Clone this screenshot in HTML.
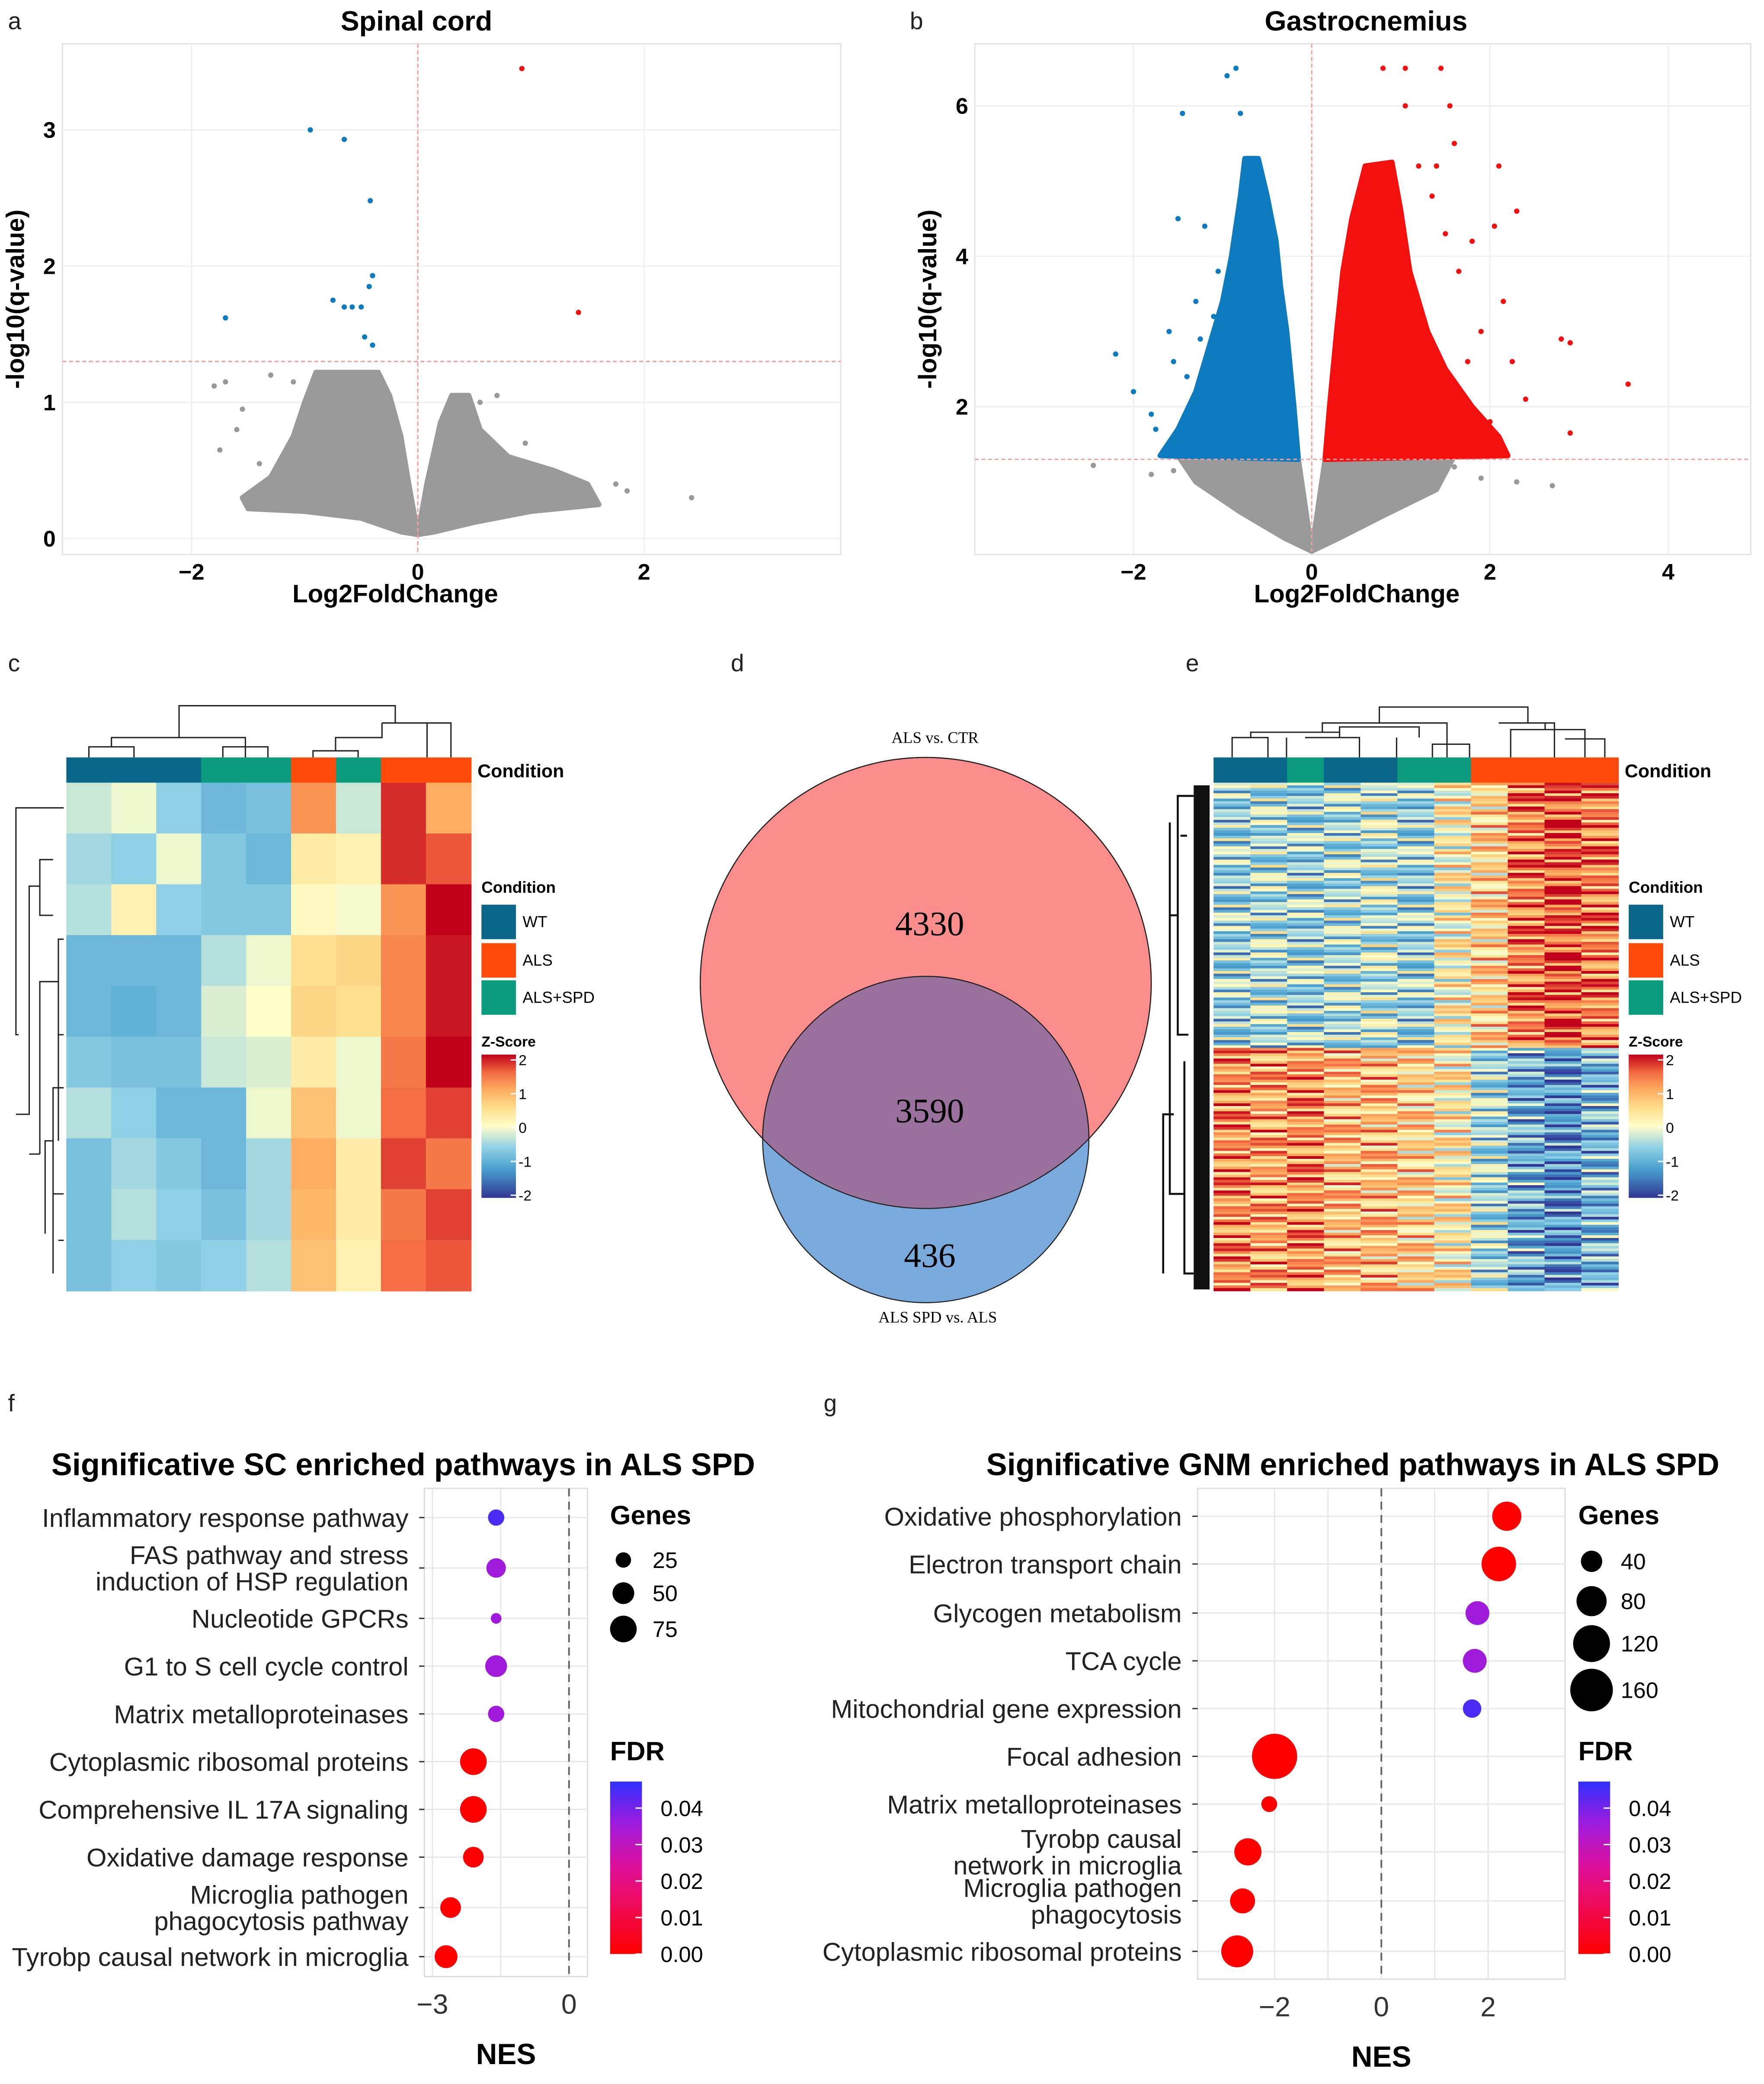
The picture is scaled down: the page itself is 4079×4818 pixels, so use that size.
<!DOCTYPE html>
<html><head><meta charset="utf-8">
<style>
html,body{margin:0;padding:0;background:#fff;}
svg{display:block;}
text{font-family:"Liberation Sans",sans-serif;}
.serif{font-family:"Liberation Serif",serif;}
</style></head>
<body>
<svg id="fig" xmlns="http://www.w3.org/2000/svg" width="4079" height="4818" viewBox="0 0 1330 1571">
<defs>
<linearGradient id="zgrad" x1="0" y1="1" x2="0" y2="0">
<stop offset="0" stop-color="#313695"/><stop offset="0.2" stop-color="#4aa0cd"/><stop offset="0.35" stop-color="#90d0e6"/><stop offset="0.5" stop-color="#fffdc8"/><stop offset="0.62" stop-color="#fee090"/><stop offset="0.75" stop-color="#fdae61"/><stop offset="0.87" stop-color="#f46d43"/><stop offset="1" stop-color="#c0001a"/>
</linearGradient>
<linearGradient id="fdrgrad" x1="0" y1="1" x2="0" y2="0">
<stop offset="0" stop-color="#ff0000"/><stop offset="0.5" stop-color="#e0109a"/><stop offset="0.75" stop-color="#a01adc"/><stop offset="1" stop-color="#3030ff"/>
</linearGradient>
<clipPath id="bigc"><circle cx="698" cy="741" r="170"/></clipPath>
</defs>
<g id="root"></g>
</svg>
<script>
// ---------- data ----------
const volA_blue_x=[-0.95,-0.65,-0.42,-0.40,-0.43,-0.75,-0.65,-0.58,-0.50,-0.47,-0.40,-1.70];
const volA_blue_y=[3.00,2.93,2.48,1.93,1.85,1.75,1.70,1.70,1.70,1.48,1.42,1.62];
const volA_red_x=[0.92,1.42];
const volA_red_y=[3.45,1.66];
const volA_gray_x=[2.42,-1.80,-1.75,-1.70,-1.55,-1.30,-1.25,-1.10,0.95,1.20,1.35,1.50,-1.60,0.55,0.70,1.75,1.85,-1.40];
const volA_gray_y=[0.30,1.12,0.65,1.15,0.95,1.20,0.30,1.15,0.70,0.45,0.40,0.35,0.80,1.00,1.05,0.40,0.35,0.55];
const volB_blue_x=[-0.85,-0.95,-0.80,-1.45,-0.60,-0.70,-1.20,-1.50,-1.60,-2.20,-2.00,-1.75,-1.40,-1.10,-0.55,-1.05,-1.30,-1.80,-1.55,-1.25];
const volB_blue_y=[6.50,6.40,5.90,5.90,5.20,5.00,4.40,4.50,3.00,2.70,2.20,1.70,2.40,3.20,4.90,3.80,3.40,1.90,2.60,2.90];
const volB_red_x=[0.80,1.05,1.45,1.05,1.60,1.55,2.10,2.30,1.80,2.80,2.90,3.55,2.90,2.05,2.40,1.20,0.90,1.75,2.15,1.35,1.90,2.25,1.65,2.00,1.50,1.40];
const volB_red_y=[6.50,6.50,6.50,6.00,5.50,6.00,5.20,4.60,4.20,2.90,2.85,2.30,1.65,4.40,2.10,5.20,5.20,2.60,3.40,4.80,3.00,2.60,3.80,1.80,4.30,5.20];
const volB_gray_x=[-2.45,-1.80,2.30,2.70,1.90,-1.55,1.60];
const volB_gray_y=[1.22,1.10,1.00,0.95,1.05,1.15,1.20];
const hmC=[
[-0.3,-0.1,-0.6,-0.9,-0.8,1.2,-0.3,1.8,1.0],
[-0.5,-0.6,-0.1,-0.7,-0.9,0.3,0.2,1.8,1.6],
[-0.4,0.2,-0.6,-0.7,-0.7,0.05,-0.05,1.2,2.0],
[-0.9,-0.9,-0.9,-0.4,-0.1,0.5,0.6,1.3,1.9],
[-0.9,-1.0,-0.9,-0.2,0.0,0.6,0.5,1.3,1.9],
[-0.7,-0.8,-0.8,-0.3,-0.2,0.3,-0.1,1.4,2.0],
[-0.4,-0.6,-0.9,-0.9,-0.1,0.8,-0.1,1.5,1.7],
[-0.8,-0.5,-0.7,-0.9,-0.5,1.0,0.3,1.7,1.4],
[-0.8,-0.4,-0.6,-0.8,-0.5,0.9,0.3,1.4,1.7],
[-0.8,-0.6,-0.7,-0.6,-0.4,0.8,0.2,1.5,1.6]];
const condC=["WT","WT","WT","SPD","SPD","ALS","SPD","ALS","ALS"];
const condE=["WT","WT","SPD","WT","WT","SPD","SPD","ALS","ALS","ALS","ALS"];
const hmE_upMean=[-0.6,-0.5,-0.6,-0.5,-0.4,-0.6,0.2,0.6,1.3,1.6,1.3];
const hmE_downMean=[1.2,1.0,1.2,0.8,0.8,0.6,0.3,-0.5,-1.0,-1.3,-0.9];
const hmE_offsets=[0.3,-0.4,0.1,0.6,-0.7,0.2,-0.2,0.5,-0.5,0.0,0.4,-0.3,0.7,-0.6,0.1,-0.1,0.35,-0.45,0.55,-0.15,0.25,-0.65,0.8,-0.8,0.05];
const vennLabels=["4330","3590","436"];
const pathF=["Inflammatory response pathway","FAS pathway and stress|induction of HSP regulation","Nucleotide GPCRs","G1 to S cell cycle control","Matrix metalloproteinases","Cytoplasmic ribosomal proteins","Comprehensive IL 17A signaling","Oxidative damage response","Microglia pathogen|phagocytosis pathway","Tyrobp causal network in microglia"];
const nesF=[-1.6,-1.6,-1.6,-1.6,-1.6,-2.1,-2.1,-2.1,-2.6,-2.7];
const genesF=[28,40,12,50,28,75,75,45,45,55];
const fdrF=[0.045,0.03,0.03,0.03,0.03,0,0,0,0,0];
const pathG=["Oxidative phosphorylation","Electron transport chain","Glycogen metabolism","TCA cycle","Mitochondrial gene expression","Focal adhesion","Matrix metalloproteinases","Tyrobp causal|network in microglia","Microglia pathogen|phagocytosis","Cytoplasmic ribosomal proteins"];
const nesG=[2.35,2.2,1.8,1.75,1.7,-2.0,-2.1,-2.5,-2.6,-2.7];
const genesG=[75,105,50,50,30,180,22,65,55,90];
const fdrG=[0,0,0.03,0.03,0.045,0,0,0,0,0];

// ---------- helpers ----------
const NS="http://www.w3.org/2000/svg";
const root=document.getElementById("root");
function mk(tag,attrs,parent,txt){const e=document.createElementNS(NS,tag);for(const k in attrs)e.setAttribute(k,attrs[k]);if(txt!==undefined)e.textContent=txt;(parent||root).appendChild(e);return e;}
function lin(d0,d1,r0,r1){return v=>r0+(v-d0)*(r1-r0)/(d1-d0);}
function zcol(z){const st=[[-2,[49,54,149]],[-1.2,[74,160,205]],[-0.6,[144,208,230]],[0,[255,253,200]],[0.5,[254,224,144]],[1,[253,174,97]],[1.5,[244,109,67]],[2,[192,0,26]]];
 z=Math.max(-2,Math.min(2,z));for(let i=0;i<st.length-1;i++){if(z<=st[i+1][0]){const t=(z-st[i][0])/(st[i+1][0]-st[i][0]);const c=st[i][1].map((a,j)=>Math.round(a+(st[i+1][1][j]-a)*t));return`rgb(${c})`;}}return"rgb(192,0,26)";}
function fdrcol(f){const t=Math.min(1,f/0.05);const a=[255,0,0],m=[160,26,220],b=[48,48,255];let c;if(t<0.6){const u=t/0.6;c=a.map((v,i)=>Math.round(v+(m[i]-v)*u));}else{const u=(t-0.6)/0.4;c=m.map((v,i)=>Math.round(v+(b[i]-v)*u));}return`rgb(${c})`;}
const condColor={WT:"#0b6689",ALS:"#fe4a0a",SPD:"#0b9c7f"};

function label(x,y,t,name){const e=mk("text",{x:x,y:y,"font-size":18,fill:"#222"},root,t);}

// ---------- volcano ----------
function volcano(o){
 const g=mk("g",{});
 const X=lin(0,1,o.x0,o.x0+o.kx),Y=lin(0,1,o.y0,o.y0-o.ky);
 mk("rect",{x:o.l,y:o.t,width:o.r-o.l,height:o.b-o.t,fill:"#fff",stroke:"#e3e3e3","stroke-width":1},g);
 o.xt.forEach(v=>{mk("line",{x1:X(v),x2:X(v),y1:o.t,y2:o.b,stroke:"#f0f0f0"},g);});
 o.yt.forEach(v=>{mk("line",{x1:o.l,x2:o.r,y1:Y(v),y2:Y(v),stroke:"#f0f0f0"},g);});
 const cloud=(pts,col,nm)=>{const p=mk("polygon",{points:pts.map(q=>X(q[0])+","+Y(q[1])).join(" "),fill:col,stroke:col,"stroke-width":4,"stroke-linejoin":"round"},g);};
 o.clouds.forEach(c=>cloud(c[0],c[1],c[2]));
 const pts=(xs,ys,col,nm)=>xs.forEach((x,i)=>{const c=mk("circle",{cx:X(x),cy:Y(ys[i]),r:2,fill:col},g);});
 pts(o.gx,o.gy,"#999","gray-point");pts(o.bx,o.by,"#0d7bbd","down-point");pts(o.rx,o.ry,"#f51010","up-point");
 mk("line",{x1:X(0),x2:X(0),y1:o.t,y2:o.b,stroke:"#f0a0a0","stroke-dasharray":"3,2"},g);
 mk("line",{x1:o.l,x2:o.r,y1:Y(1.3),y2:Y(1.3),stroke:"#f0a0a0","stroke-dasharray":"3,2"},g);
 o.xt.forEach(v=>{const t=mk("text",{x:X(v),y:o.b+19,"font-size":17,"font-weight":"bold","text-anchor":"middle"},g,v<0?"\u2212"+(-v):String(v));});
 o.yt.forEach(v=>{const t=mk("text",{x:o.l-5,y:Y(v)+6,"font-size":17,"font-weight":"bold","text-anchor":"end"},g,String(v));});
 const xt=mk("text",{x:o.xlx,y:o.b+36,"font-size":19,"font-weight":"bold","text-anchor":"middle"},g,"Log2FoldChange");
 const yt=mk("text",{x:0,y:0,"font-size":19,"font-weight":"bold","text-anchor":"middle",transform:`translate(${o.l-29},${(o.t+o.b)/2}) rotate(-90)`},g,"-log10(q-value)");
 const tt=mk("text",{x:o.tlx,y:23,"font-size":21,"font-weight":"bold","text-anchor":"middle"},g,o.title);
}
volcano({name:"volcano-spinal-cord",title:"Spinal cord",tlx:314,xlx:298,l:47,r:634,t:33,b:418,x0:315,kx:85.3,y0:406,ky:102.7,xt:[-2,0,2],yt:[0,1,2,3],
 clouds:[[[[0,0.03],[-0.08,0.4],[-0.15,0.75],[-0.25,1.05],[-0.35,1.22],[-0.9,1.22],[-1.0,1.0],[-1.1,0.75],[-1.3,0.45],[-1.55,0.3],[-1.5,0.22],[-1.0,0.2],[-0.5,0.15],[-0.15,0.05]],"#9a9a9a","gray-cloud-left"],
 [[[0,0.03],[0.08,0.4],[0.2,0.85],[0.3,1.05],[0.45,1.05],[0.55,0.8],[0.8,0.6],[1.2,0.5],[1.5,0.4],[1.6,0.25],[1.0,0.2],[0.5,0.12],[0.15,0.05]],"#9a9a9a","gray-cloud-right"]],
 gx:volA_gray_x,gy:volA_gray_y,bx:volA_blue_x,by:volA_blue_y,rx:volA_red_x,ry:volA_red_y});
volcano({name:"volcano-gastrocnemius",title:"Gastrocnemius",tlx:1030,xlx:1023,l:735,r:1320,t:33,b:418,x0:989,kx:67.2,y0:420,ky:56.7,xt:[-2,0,2,4],yt:[2,4,6],
 clouds:[[[[0,0.08],[-0.15,1.3],[-1.5,1.35],[-1.3,1.0],[-0.8,0.6],[-0.3,0.25]],"#9a9a9a","gray-cloud-left"],
 [[[0,0.08],[0.15,1.3],[1.6,1.35],[1.4,0.9],[0.8,0.55],[0.3,0.25]],"#9a9a9a","gray-cloud-right"],
 [[[-0.15,1.3],[-0.2,2.0],[-0.28,3.0],[-0.35,3.6],[-0.4,4.2],[-0.5,4.8],[-0.6,5.3],[-0.75,5.3],[-0.8,4.8],[-0.9,4.0],[-1.0,3.4],[-1.15,2.8],[-1.3,2.2],[-1.5,1.7],[-1.7,1.35]],"#0d7bbd","down-cloud"],
 [[[0.15,1.3],[0.2,2.0],[0.28,3.0],[0.35,3.8],[0.45,4.5],[0.6,5.2],[0.9,5.25],[1.0,4.6],[1.1,3.8],[1.3,3.0],[1.5,2.5],[1.8,2.0],[2.1,1.6],[2.2,1.35]],"#f51010","up-cloud"]],
 gx:volB_gray_x,gy:volB_gray_y,bx:volB_blue_x,by:volB_blue_y,rx:volB_red_x,ry:volB_red_y});

// ---------- legend for heatmaps ----------
function hmLegend(x,name){
 const g=mk("g",{});
 mk("text",{x:x,y:673,"font-size":12,"font-weight":"bold"},g,"Condition");
 [["WT","WT",682],["ALS","ALS",711],["ALS+SPD","SPD",739]].forEach(r=>{mk("rect",{x:x,y:r[2],width:26,height:26,fill:condColor[r[1]]},g);mk("text",{x:x+31,y:r[2]+17,"font-size":12},g,r[0]);});
 mk("text",{x:x,y:789,"font-size":11,"font-weight":"bold"},g,"Z-Score");
 mk("rect",{x:x,y:795,width:26,height:108,fill:"url(#zgrad)"},g);
 [2,1,0,-1,-2].forEach((v,i)=>{const yy=799+i*25.5;mk("line",{x1:x+22,x2:x+26,y1:yy,y2:yy,stroke:"#fff"},g);mk("text",{x:x+28,y:yy+4,"font-size":11},g,v<0?"-"+(-v):String(v));});
}
// ---------- heatmap c ----------
(function(){
 const g=mk("g",{});
 const L=50,T=590,W=305/9,H=383/10;
 hmC.forEach((row,r)=>row.forEach((v,c)=>{const e=mk("rect",{x:L+c*W,y:T+r*H,width:W+0.5,height:H+0.5,fill:zcol(v)},g);}));
 condC.forEach((c,i)=>{const e=mk("rect",{x:L+i*W,y:571,width:W+0.5,height:19,fill:condColor[c]},g);});
 mk("text",{x:360,y:586,"font-size":14,"font-weight":"bold"},g,"Condition");
 mk("path",{d:"M67,571V563H101V571 M84,563V556H185V571 M168,571V563H202V571 M185,563V556 M135,556V532H298V545 M236,571V566H270V571 M253,566V556H288V545 M288,545H340V571 M322,545V571 M298,545V532",fill:"none",stroke:"#222","stroke-width":1},g);
 mk("path",{d:"M48,609H12V780H14 M40,648H30V690H40 M30,668H22V840H12 M48,708H44V860 M44,740H30V870 M48,780H44 M48,820H40V960 M40,860H34V930 M48,900H40 M48,935H44 M30,870H22",fill:"none",stroke:"#222","stroke-width":1},g);
 hmLegend(363,"legend-spinal-cord");
})();
// ---------- heatmap e ----------
(function(){
 const g=mk("g",{});
 const L=915,T=590,W=305/11,nUp=100,nDown=92,H1=200/nUp,H2=183/nDown;
 for(let r=0;r<nUp+nDown;r++){
  const up=r<nUp,means=up?hmE_upMean:hmE_downMean,y=up?T+r*H1:T+200+(r-nUp)*H2,h=up?H1:H2;
  means.forEach((m,c)=>{const v=m+hmE_offsets[(r*7+c*5)%hmE_offsets.length]*1.3;const e=mk("rect",{x:L+c*W,y:y,width:W+0.5,height:h+0.4,fill:zcol(v)},g);});
 }
 condE.forEach((c,i)=>{const e=mk("rect",{x:L+i*W,y:571,width:W+0.5,height:19,fill:condColor[c]},g);});
 mk("text",{x:1225,y:586,"font-size":14,"font-weight":"bold"},g,"Condition");
 mk("path",{d:"M929,571V556H956V571 M943,556V552H1010V556 M970,571V556 M984,556H1025V571 M1010,556V548H1070V556 M997,552V545H1091V556 M1053,571V556 M1091,556V571 M1040,545V533H1152V545 M1080,571V561H1108V571 M1130,545H1172V571 M1152,545V533 M1139,571V550H1195V571 M1165,550V545 M1180,557H1210V571",fill:"none",stroke:"#222","stroke-width":1},g);
 mk("rect",{x:900,y:592,width:12,height:380,fill:"#111"},g);
 mk("path",{d:"M900,600H888V780H896 M888,690H882V900H893 M893,800V960H900 M885,840H877V960 M882,620V700 M895,630H890",fill:"none",stroke:"#111","stroke-width":1.5},g);
 hmLegend(1228,"legend-gastrocnemius");
})();
// ---------- venn ----------
(function(){
 const g=mk("g",{});
 const a=mk("circle",{cx:698,cy:741,r:170,fill:"#fc8d8d",stroke:"#222","stroke-width":0.8},g);
 const b=mk("circle",{cx:698,cy:859,r:123,fill:"#7aaadb",stroke:"#222","stroke-width":0.8},g);
 mk("circle",{cx:698,cy:859,r:123,fill:"#9a709c",stroke:"#222","stroke-width":0.8,"clip-path":"url(#bigc)"},g);
 mk("circle",{cx:698,cy:741,r:170,fill:"none",stroke:"#222","stroke-width":0.8},g);
 const ys=[705,846,955];vennLabels.forEach((t,i)=>mk("text",{x:701,y:ys[i],"font-size":26,"text-anchor":"middle",class:"serif"},g,t));
 mk("text",{x:705,y:560,"font-size":12,"text-anchor":"middle",class:"serif"},g,"ALS vs. CTR");
 mk("text",{x:707,y:997,"font-size":12,"text-anchor":"middle",class:"serif"},g,"ALS SPD vs. ALS");
})();
// ---------- dot plots ----------
function dotplot(o){
 const g=mk("g",{});
 const X=lin(o.xv[0],o.xv[1],o.xp[0],o.xp[1]);
 mk("rect",{x:o.l,y:o.t,width:o.r-o.l,height:o.b-o.t,fill:"#fff",stroke:"#ddd"},g);
 o.grid.forEach(v=>mk("line",{x1:X(v),x2:X(v),y1:o.t,y2:o.b,stroke:"#e8e8e8"},g));
 o.rows.forEach(y=>mk("line",{x1:o.l,x2:o.r,y1:y,y2:y,stroke:"#e8e8e8"},g));
 mk("line",{x1:X(0),x2:X(0),y1:o.t,y2:o.b,stroke:"#666","stroke-dasharray":"6,4","stroke-width":1.3},g);
 o.paths.forEach((p,i)=>{const y=o.rows[i];const parts=p.split("|");
  parts.forEach((s,k)=>{const t=mk("text",{x:o.l-12,y:y+7-(parts.length-1-k)*20+(parts.length>1?10:0),"font-size":19.5,"text-anchor":"end",fill:"#222"},g,s);});
  mk("line",{x1:o.l-4,x2:o.l,y1:y,y2:y,stroke:"#333"},g);
  const c=mk("circle",{cx:X(o.nes[i]),cy:y,r:o.k*Math.sqrt(o.genes[i]),fill:fdrcol(o.fdr[i])},g);});
 o.ticks.forEach(v=>{const t=mk("text",{x:X(v),y:o.b+28,"font-size":21,"text-anchor":"middle",fill:"#333"},g,v<0?"\u2212"+(-v):String(v));});
 const xt=mk("text",{x:(o.l+o.r)/2,y:o.b+66,"font-size":22,"font-weight":"bold","text-anchor":"middle"},g,"NES");
 const tt=mk("text",{x:o.tx,y:1112,"font-size":23.5,"font-weight":"bold","text-anchor":"middle"},g,o.title);
 mk("text",{x:o.lx,y:1149,"font-size":20,"font-weight":"bold"},g,"Genes");
 o.leg.forEach((v,i)=>{mk("circle",{cx:o.lx+10,cy:o.legy[i],r:o.k*Math.sqrt(v),fill:"#000"},g);mk("text",{x:o.lx+32,y:o.legy[i]+6,"font-size":17},g,String(v));});
 mk("text",{x:o.lx,y:1327,"font-size":20,"font-weight":"bold"},g,"FDR");
 mk("rect",{x:o.lx,y:1343,width:24,height:130,fill:"url(#fdrgrad)"},g);
 ["0.04","0.03","0.02","0.01","0.00"].forEach((s,i)=>{const yy=1363+i*27.5;mk("line",{x1:o.lx+19,x2:o.lx+24,y1:yy,y2:yy,stroke:"#fff"},g);mk("text",{x:o.lx+38,y:yy+6,"font-size":16.5},g,s);});
}
dotplot({name:"dotplot-sc-pathways",title:"Significative SC enriched pathways in ALS SPD",tx:304,l:320,r:443,t:1122,b:1490,xv:[-3,0],xp:[326,429],grid:[-3,-1.5,0],ticks:[-3,0],
 rows:[1144,1182,1220,1256,1292,1328,1364,1400,1438,1475],paths:pathF,nes:nesF,genes:genesF,fdr:fdrF,k:1.16,lx:460,leg:[25,50,75],legy:[1176,1201,1228]});
dotplot({name:"dotplot-gnm-pathways",title:"Significative GNM enriched pathways in ALS SPD",tx:1020,l:903,r:1180,t:1122,b:1492,xv:[-2,2],xp:[961,1122],grid:[-2,-1,0,1,2],ticks:[-2,0,2],
 rows:[1143,1179,1216,1252,1288,1324,1360,1396,1433,1471],paths:pathG,nes:nesG,genes:genesG,fdr:fdrG,k:1.27,lx:1190,leg:[40,80,120,160],legy:[1177,1207,1239,1274]});

// panel letters
[["a",10,22],["b",690,22],["c",10,506],["d",555,506],["e",898,506],["f",10,1064],["g",625,1064]].forEach(p=>label(p[1]-4,p[2],p[0],"panel-label-"+p[0]));
</script>
</body></html>
